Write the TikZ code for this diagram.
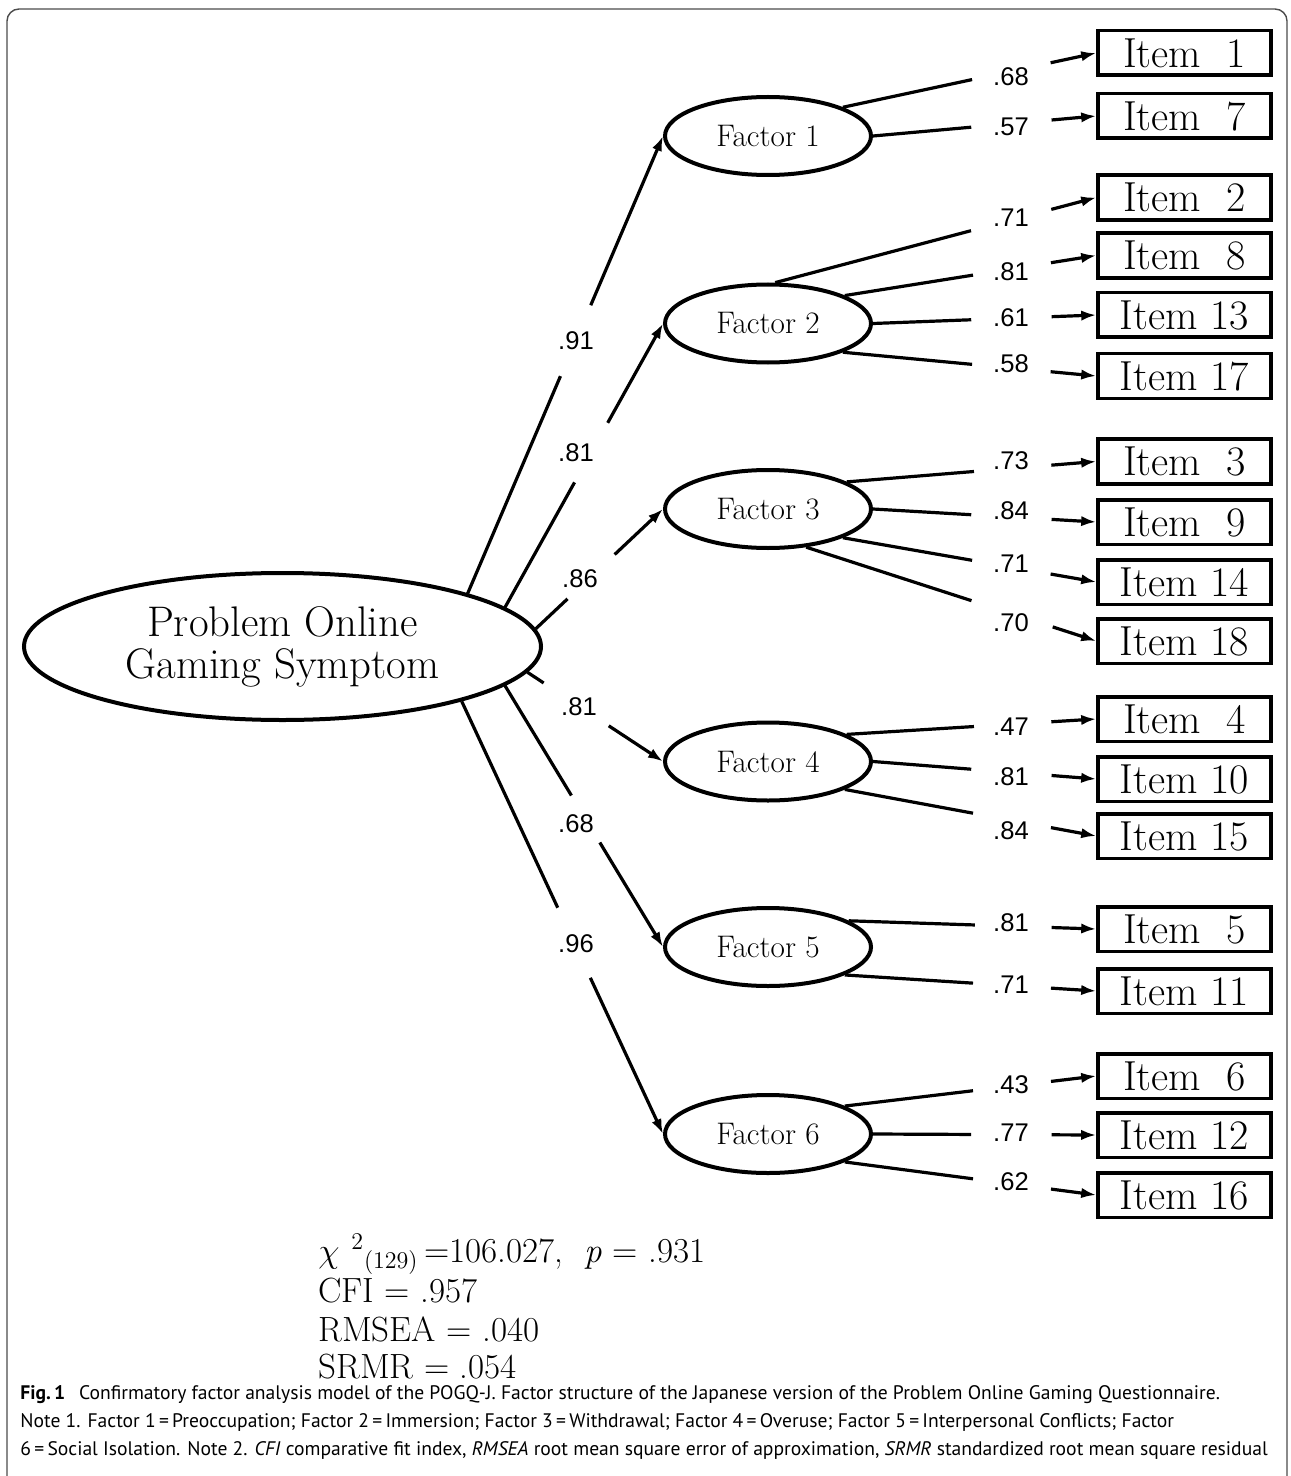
\documentclass[tikz,border=0pt]{standalone}
\usepackage{fontspec}
\newfontfamily\loadfont{Liberation Sans}
\newfontfamily\capfont{PT Sans}
\usetikzlibrary{shapes.geometric,arrows.meta,calc}
\newcommand\loadline[4]{%
  \draw[conn] (#1) -- ($(#1)!#3!(#2.west)$);
  \draw[arr] ($(#1)!#4!(#2.west)$) -- (#2.west);}
\begin{document}
\begin{tikzpicture}[x=0.5pt,y=-0.5pt,
  latent/.style={ellipse, draw, line width=2pt, inner sep=0pt},
  factor/.style={latent, minimum width=103pt, minimum height=39pt, font=\fontsize{15.6}{17}\selectfont},
  itembox/.style={draw, line width=1.8pt, minimum width=86.5pt, minimum height=22.3pt, inner sep=0pt, font=\fontsize{21}{22}\selectfont},
  conn/.style={line width=1.6pt},
  arr/.style={conn, -{Latex[length=7.5pt,width=5.2pt]}},
  load/.style={font=\loadfont\fontsize{12.8}{14}\selectfont, inner sep=0pt},
  stat/.style={anchor=base west, inner sep=0pt, font=\fontsize{17.5}{19}\selectfont},
  captext/.style={anchor=base west, inner sep=0pt, font=\capfont\fontsize{9.8}{14}\selectfont},
]
\useasboundingbox (0,0) rectangle (1290,1476);
\draw[black!70, line width=0.7pt, rounded corners=6pt] (7,1476) -- (7,9) -- (1287,9) -- (1287,1476);

% latent variables
\node[latent, minimum width=258.5pt, minimum height=73.5pt, align=center,
      font=\fontsize{21.4}{21}\selectfont] (main) at (282.5,646.5) {Problem Online\\Gaming Symptom};
\node[factor] (F1) at (768,136) {Factor 1};
\node[factor] (F2) at (768,323.5) {Factor 2};
\node[factor] (F3) at (768,509) {Factor 3};
\node[factor] (F4) at (768,761.5) {Factor 4};
\node[factor] (F5) at (768,947) {Factor 5};
\node[factor] (F6) at (768,1134) {Factor 6};

% items
\node[itembox] (I1)  at (1184.5,53)    {Item\ \ 1};
\node[itembox] (I7)  at (1184.5,116)   {Item\ \ 7};
\node[itembox] (I2)  at (1184.5,197.5) {Item\ \ 2};
\node[itembox] (I8)  at (1184.5,255.5) {Item\ \ 8};
\node[itembox] (I13) at (1184.5,315)   {Item 13};
\node[itembox] (I17) at (1184.5,376)   {Item 17};
\node[itembox] (I3)  at (1184.5,461.5) {Item\ \ 3};
\node[itembox] (I9)  at (1184.5,522)   {Item\ \ 9};
\node[itembox] (I14) at (1184.5,582)   {Item 14};
\node[itembox] (I18) at (1184.5,641)   {Item 18};
\node[itembox] (I4)  at (1184.5,719)   {Item\ \ 4};
\node[itembox] (I10) at (1184.5,779)   {Item 10};
\node[itembox] (I15) at (1184.5,836)   {Item 15};
\node[itembox] (I5)  at (1184.5,929)   {Item\ \ 5};
\node[itembox] (I11) at (1184.5,991)   {Item 11};
\node[itembox] (I6)  at (1184.5,1076)  {Item\ \ 6};
\node[itembox] (I12) at (1184.5,1135)  {Item 12};
\node[itembox] (I16) at (1184.5,1195)  {Item 16};

% second-order paths
\loadline{main.16.6}{F1}{0.475}{0.63}
\loadline{main.10}{F2}{0.44}{0.65}
\loadline{main.4}{F3}{0.25}{0.62}
\loadline{main.-6.1}{F4}{0.12}{0.60}
\loadline{main.-10.7}{F5}{0.42}{0.60}
\loadline{main.-17.2}{F6}{0.477}{0.639}

\node[load] (g1) at (576,341) {.91};
\node[load] (g2) at (576,453) {.81};
\node[load] (g3) at (580,579) {.86};
\node[load] (g4) at (579,707) {.81};
\node[load] (g5) at (576,824) {.68};
\node[load] (g6) at (576,944) {.96};

% first-order loadings
\loadline{F1.21}{I1}{0.51}{0.82}
\loadline{F1.0}{I7}{0.44}{0.80}
\loadline{F2.80}{I2}{0.61}{0.86}
\loadline{F2.20}{I8}{0.51}{0.82}
\loadline{F2.0}{I13}{0.44}{0.80}
\loadline{F2.-21.5}{I17}{0.51}{0.82}
\loadline{F3.19.3}{I3}{0.51}{0.82}
\loadline{F3.0}{I9}{0.44}{0.80}
\loadline{F3.-21}{I14}{0.51}{0.82}
\loadline{F3.-45.7}{I18}{0.57}{0.85}
\loadline{F4.19.8}{I4}{0.51}{0.82}
\loadline{F4.0}{I10}{0.44}{0.80}
\loadline{F4.-20.7}{I15}{0.51}{0.82}
\loadline{F5.18.6}{I5}{0.51}{0.82}
\loadline{F5.-20.6}{I11}{0.51}{0.82}
\loadline{F6.20.6}{I6}{0.51}{0.82}
\loadline{F6.0}{I12}{0.44}{0.80}
\loadline{F6.-20.5}{I16}{0.51}{0.82}

\node[load] (l1)  at (1011,77)   {.68};
\node[load] (l7)  at (1011,127)  {.57};
\node[load] (l2)  at (1011,218)  {.71};
\node[load] (l8)  at (1011,272)  {.81};
\node[load] (l13) at (1011,318)  {.61};
\node[load] (l17) at (1011,364)  {.58};
\node[load] (l3)  at (1011,461)  {.73};
\node[load] (l9)  at (1011,511)  {.84};
\node[load] (l14) at (1011,564)  {.71};
\node[load] (l18) at (1011,623)  {.70};
\node[load] (l4)  at (1011,727)  {.47};
\node[load] (l10) at (1011,777)  {.81};
\node[load] (l15) at (1011,831)  {.84};
\node[load] (l5)  at (1011,923)  {.81};
\node[load] (l11) at (1011,985)  {.71};
\node[load] (l6)  at (1011,1085) {.43};
\node[load] (l12) at (1011,1133) {.77};
\node[load] (l16) at (1011,1182) {.62};

% fit statistics
\node[stat] (s1) at (318,1262) {$\chi$\,\,${}^{2}{}_{\scriptstyle(129)}$\,=106.027,\ \ \textit{p} = .931};
\node[stat] (s2) at (318,1302) {CFI = .957};
\node[stat] (s3) at (318,1341) {RMSEA = .040};
\node[stat] (s4) at (318,1378) {SRMR = .054};

% caption
\node[captext] (c1) at (20,1399) {\textbf{Fig.\,1}\hspace{0.7em}Confirmatory factor analysis model of the POGQ-J. Factor structure of the Japanese version of the Problem Online Gaming Questionnaire.};
\node[captext] (c2) at (20,1427) {Note 1. Factor 1\,=\,Preoccupation; Factor 2\,=\,Immersion; Factor 3\,=\,Withdrawal; Factor 4\,=\,Overuse; Factor 5\,=\,Interpersonal Conflicts; Factor};
\node[captext] (c3) at (20,1455) {6\,=\,Social Isolation. Note 2. \textit{CFI} comparative fit index, \textit{RMSEA} root mean square error of approximation, \textit{SRMR} standardized root mean square residual};
\end{tikzpicture}
\end{document}
